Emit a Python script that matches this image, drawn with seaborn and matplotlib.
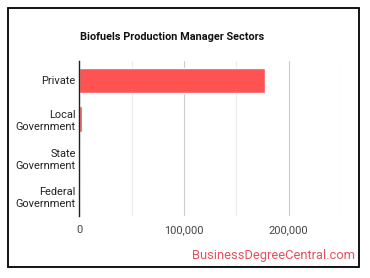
import matplotlib
matplotlib.use("Agg")
import matplotlib.pyplot as plt
import seaborn as sns
import pandas as pd
from matplotlib.ticker import FuncFormatter, MultipleLocator
from matplotlib.patches import Rectangle

categories = ["Private", "Local\nGovernment", "State\nGovernment", "Federal\nGovernment"]
values = [177800, 2300, 600, 700]
title = "Biofuels Production Manager Sectors"
watermark = "BusinessDegreeCentral.com"

sns.set_theme(style="white")
plt.rcParams['font.family'] = ['Roboto', 'DejaVu Sans']

df = pd.DataFrame({"sector": categories, "value": values})

fig = plt.figure(figsize=(3.7, 2.78), dpi=100)
ax = fig.add_axes([0.2143, 0.2241, 0.7073, 0.5565])
sns.barplot(data=df, x="value", y="sector", orient="h", color="#FF5252",
            saturation=1, width=0.65, ax=ax)

ax.set_xlim(0, 250000)
ax.xaxis.set_major_locator(MultipleLocator(100000))
ax.xaxis.set_minor_locator(MultipleLocator(50000))
ax.xaxis.set_major_formatter(FuncFormatter(lambda v, p: f"{int(v):,}"))
ax.grid(axis="x", which="major", color="#cccccc", linewidth=0.8)
ax.grid(axis="x", which="minor", color="#ebebeb", linewidth=0.8)
ax.set_axisbelow(True)
for s in ["top", "right", "bottom"]:
    ax.spines[s].set_visible(False)
ax.spines["left"].set_color("#222222")
ax.spines["left"].set_linewidth(1)
ax.set_xlabel("")
ax.set_ylabel("")
ax.tick_params(axis="x", which="both", length=0, pad=7, labelsize=7.9, labelcolor="#444444")
ax.tick_params(axis="y", length=0, pad=2.5, labelsize=7.9, labelcolor="#222222")
for lbl in ax.get_yticklabels():
    lbl.set_horizontalalignment("right")
    lbl.set_linespacing(1.25)

fig.text(0.465, 0.866, title, ha="center", va="center", fontsize=7.8, fontweight="bold", color="#111111")
fig.text(0.96, 0.08, watermark, ha="right", va="center", fontsize=9.3, color="#E8505B")

fig.patches.append(Rectangle((8/370, 1-267/278), 351/370, 259/278, transform=fig.transFigure,
                             fill=False, edgecolor="black", linewidth=1.3))

fig.savefig("out.png", dpi=100)
